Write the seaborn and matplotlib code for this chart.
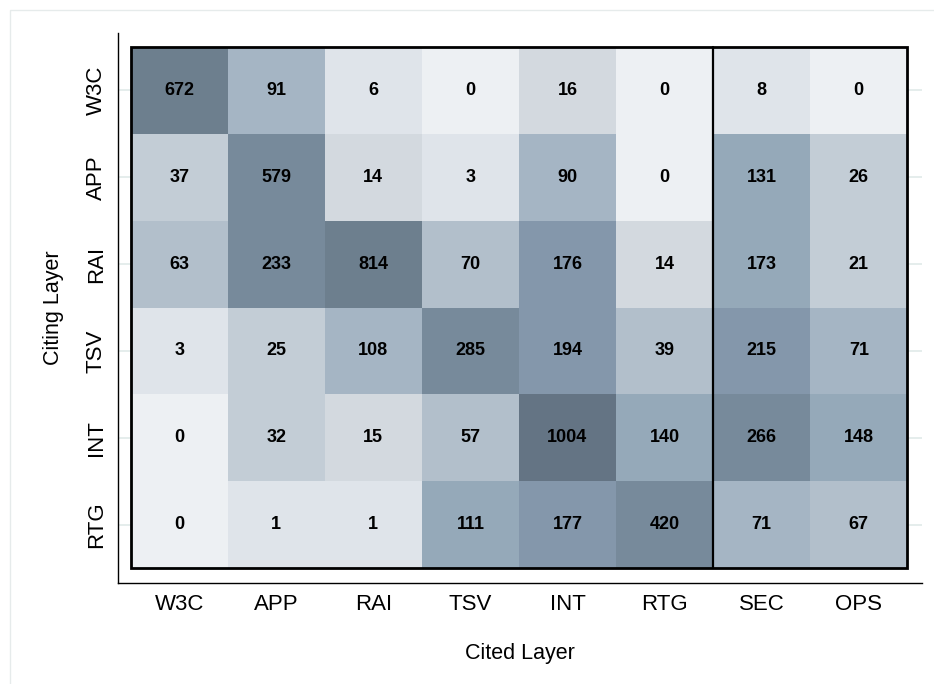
import matplotlib
matplotlib.use("Agg")
import matplotlib.pyplot as plt
from matplotlib.colors import ListedColormap, BoundaryNorm
from matplotlib.patches import Rectangle
import seaborn as sns
import pandas as pd

# layers
cited = ["W3C", "APP", "RAI", "TSV", "INT", "RTG", "SEC", "OPS"]
citing = ["W3C", "APP", "RAI", "TSV", "INT", "RTG"]

# citation counts, one list per citing layer
w3c = [672, 91, 6, 0, 16, 0, 8, 0]
app = [37, 579, 14, 3, 90, 0, 131, 26]
rai = [63, 233, 814, 70, 176, 14, 173, 21]
tsv = [3, 25, 108, 285, 194, 39, 215, 71]
int_ = [0, 32, 15, 57, 1004, 140, 266, 148]
rtg = [0, 1, 1, 111, 177, 420, 71, 67]

data = pd.DataFrame([w3c, app, rai, tsv, int_, rtg], index=citing, columns=cited)

# shading steps
bounds = [0, 0.5, 10, 18, 38, 70.5, 110, 175, 225, 600, 900, 1100]
shades = ["#edf0f3", "#dfe4ea", "#d3d9df", "#c3cdd6", "#b2bfcb", "#a5b5c4",
          "#95a9b9", "#8497ab", "#778a9b", "#6d7f8e", "#647484"]
cmap = ListedColormap(shades)
norm = BoundaryNorm(bounds, cmap.N)

sns.set_theme(style="white")
plt.rcParams["font.family"] = ["Liberation Sans", "DejaVu Sans"]
plt.rcParams["text.color"] = "black"
plt.rcParams["axes.labelcolor"] = "black"
plt.rcParams["xtick.color"] = "black"
plt.rcParams["ytick.color"] = "black"

fig = plt.figure(figsize=(9.34, 6.84), dpi=100)
ax = fig.add_axes([0.1263, 0.1477, 0.8607, 0.8041])

sns.heatmap(data, cmap=cmap, norm=norm, annot=True, fmt="d", cbar=False, ax=ax,
            annot_kws={"color": "black", "fontsize": 13, "fontweight": "bold"})

ncol, nrow = data.shape[1], data.shape[0]
split = cited.index("SEC")

ax.add_patch(Rectangle((0, 0), ncol, nrow, fill=False, ec="black", lw=2.0, zorder=4,
                       clip_on=False))
ax.plot([split, split], [0, nrow], color="black", lw=1.6, zorder=4)

ax.set_xlim(-0.13, ncol + 0.15)
ax.set_ylim(nrow + 0.17, -0.16)

# light horizontal grid behind the cells
ax.set_axisbelow(True)
ax.yaxis.grid(True, color="#e3ecea", lw=1.3)
ax.xaxis.grid(False)

for side in ["left", "bottom"]:
    ax.spines[side].set_visible(True)
    ax.spines[side].set_color("black")
    ax.spines[side].set_linewidth(1.0)

ax.set_xticklabels(cited, rotation=0, fontsize=16, color="black")
ax.set_yticklabels(citing, rotation=90, va="center", fontsize=16, color="black")
ax.tick_params(axis="both", length=0)
ax.tick_params(axis="x", pad=8)
ax.tick_params(axis="y", pad=8)

ax.set_xlabel("Cited Layer", fontsize=15.5, labelpad=20, color="black")
ax.set_ylabel("Citing Layer", fontsize=15.5, labelpad=16, color="black")

fig.add_artist(Rectangle((10 / 934, -0.1), 1.2, 674 / 684 + 0.1, fill=False,
                         ec="#e6ebeb", lw=1.0, transform=fig.transFigure))

fig.savefig("out.png", dpi=100)
